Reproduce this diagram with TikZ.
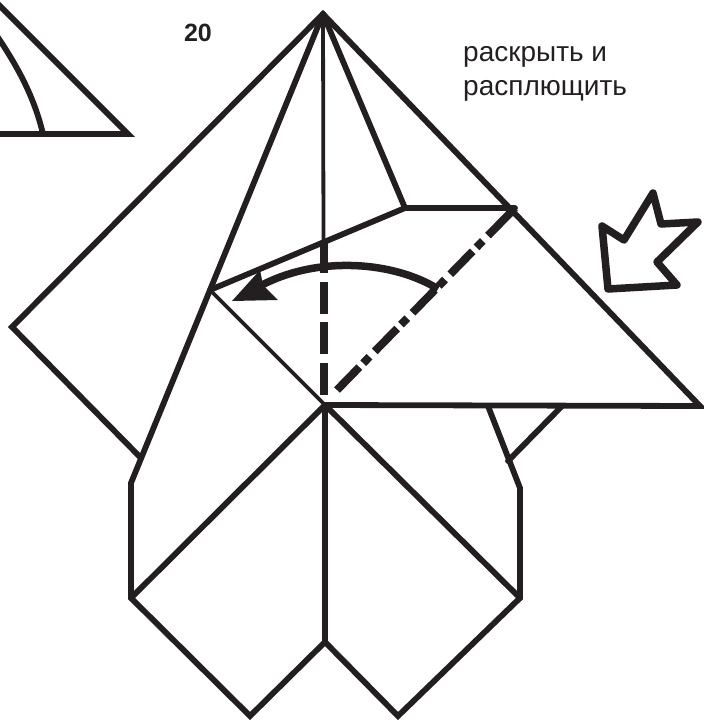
\documentclass[tikz,border=0pt]{standalone}
\usepackage{fontspec}
\setmainfont{Liberation Sans}
\begin{document}
\begin{tikzpicture}[x=1pt,y=-1pt,
  fold/.style={draw=inkc,line width=5.8pt,line join=miter,line cap=round},
  thinfold/.style={draw=inkc,line width=3.8pt},
  valley/.style={draw=inkc,line width=8pt,dash pattern=on 32pt off 8.6pt},
  mountain/.style={draw=inkc,line width=8pt,dash pattern=on 32pt off 5.5pt on 9pt off 7.5pt},
  turn/.style={draw=inkc,line width=7.5pt},
  hollow/.style={draw=inkc,line width=7.5pt,line join=round},
  label/.style={text=inkc,font=\fontsize{28pt}{32pt}\selectfont,anchor=base west,inner sep=0pt}]
\definecolor{inkc}{HTML}{231F20}
\useasboundingbox (0,0) rectangle (704,724);
\coordinate (T) at (323,14);
\coordinate (L) at (12,327);
\coordinate (LB) at (140,457);
\coordinate (C) at (325,405);
\coordinate (R) at (700,406);
\coordinate (K) at (210,290);
\coordinate (M) at (405,208);
\coordinate (Q) at (515,208);
\coordinate (A1) at (131,483);
\coordinate (A2) at (131,598);
\coordinate (A3) at (250,716);
\coordinate (A4) at (325,642);
\coordinate (A5) at (398,716);
\coordinate (A6) at (520,598);
\coordinate (A7) at (520,488);
\coordinate (A8) at (508,461);
\coordinate (A9) at (488,406);
\coordinate (A10) at (562,406);
\coordinate (V1) at (323.5,240);
\coordinate (V2) at (324,241);
\coordinate (V3) at (324,396);
\coordinate (D1) at (337,390);
% fragment of the previous figure
\coordinate (F0) at (-3,3);
\coordinate (F1) at (128,134);
\coordinate (F2) at (-3,134);
\coordinate (F3) at (-3,36);
\coordinate (F4) at (43,134);
\draw[fold] (F0) -- (F1) -- (F2);
\draw[fold] (F3) .. controls (20,70) and (35,100) .. (F4);
% outline
\draw[fold] (LB) -- (L) -- (T) -- (R) -- (C);
\draw[fold] (T) -- (A1) -- (A2) -- (A3) -- (A4) -- (A5) -- (A6) -- (A7) -- (A9);
\draw[fold] (A8) -- (A10);
\draw[fold] (T) -- (M) -- (Q);
\draw[fold] (M) -- (K);
\draw[fold] (C) -- (A2);
\draw[fold] (C) -- (A6);
\draw[fold] (C) -- (A4);
\draw[thinfold] (T) -- (V1);
\draw[thinfold] (K) -- (C);
% fold lines
\draw[valley] (V2) -- (V3);
\draw[mountain] (D1) -- (Q);
% turn arrow
\coordinate (B1) at (438,289);
\coordinate (B2) at (262,285);
\draw[turn] (B1) .. controls (395,262) and (320,255) .. (B2);
\fill[inkc] (232,301) -- (260,270) -- (263,285) -- (278,300) -- cycle;
% hollow push arrow
\draw[hollow] (653,193) -- (661,224) -- (698,222) -- (657,262) -- (677,285) -- (608,289) -- (602,226) -- (624,240) -- cycle;
% labels
\node[text=inkc,font=\bfseries\fontsize{25pt}{28pt}\selectfont,inner sep=0pt] (n20) at (198,33) {20};
\node[label] (t1) at (463,61) {раскрыть и};
\node[label] (t2) at (463,95) {расплющить};
\end{tikzpicture}
\end{document}
